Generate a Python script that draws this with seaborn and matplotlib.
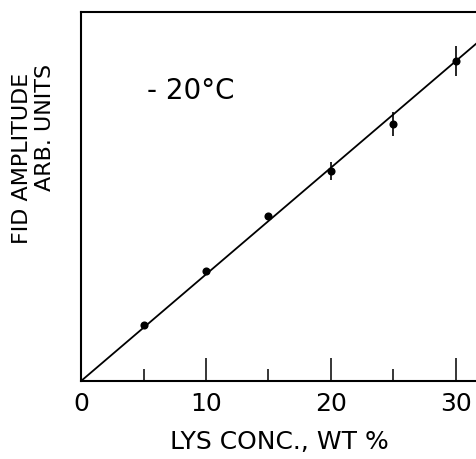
import numpy as np
import pandas as pd
import matplotlib
matplotlib.use('Agg')
import matplotlib.pyplot as plt
import seaborn as sns

# data
conc = [5, 10, 15, 20, 25, 30]
amp = [5.25, 10.3, 15.5, 19.7, 24.1, 30.0]
amp_err = [0.1, 0.15, 0.3, 0.85, 1.15, 1.4]
fit_x = [0, 32]
fit_y = [0, 32]
xticks_major = [0, 10, 20, 30]
xticks_minor = [5, 15, 25]

sns.set_theme(style='ticks')
plt.rcParams['font.family'] = ['DejaVu Sans']
plt.rcParams['text.color'] = 'black'
plt.rcParams['xtick.color'] = 'black'
plt.rcParams['xtick.labelcolor'] = 'black'
plt.rcParams['axes.labelcolor'] = 'black'

fig = plt.figure(figsize=(4.77, 4.60), dpi=100)
ax = fig.add_axes([0.170, 0.1696, 0.830, 0.802])

df = pd.DataFrame({'conc': conc, 'amp': amp, 'err': amp_err})
fit = pd.DataFrame({'x': fit_x, 'y': fit_y})

sns.lineplot(data=fit, x='x', y='y', color='black', linewidth=1.3, ax=ax)
ax.errorbar(df['conc'], df['amp'], yerr=df['err'], fmt='none', ecolor='black',
	elinewidth=1.2, capsize=0)
sns.scatterplot(data=df, x='conc', y='amp', color='black', s=34, edgecolor='black',
	linewidth=0, ax=ax, zorder=5)

ax.set_xlim(0, 31.7)
ax.set_ylim(0, 34.6)
ax.set_xticks(xticks_major)
ax.set_xticks(xticks_minor, minor=True)
ax.set_yticks([])
ax.tick_params(axis='x', which='major', direction='in', length=16.5, width=1.1,
	labelsize=18, pad=7)
ax.tick_params(axis='x', which='minor', direction='in', length=8.5, width=1.1)
for side in ['left', 'bottom', 'top']:
	ax.spines[side].set_linewidth(1.5)
	ax.spines[side].set_color('black')
ax.spines['right'].set_visible(False)

ax.set_xlabel('LYS CONC., WT %', fontsize=18, labelpad=10)
ax.set_ylabel('')
ax.text(5.3, 0.79, '- 20°C', transform=ax.get_xaxis_transform(), fontsize=20,
	va='center', ha='left')

fig.text(22/477, 1-158/460, 'FID AMPLITUDE', rotation=90, fontsize=16,
	ha='center', va='center')
fig.text(45/477, 1-127/460, 'ARB. UNITS', rotation=90, fontsize=16,
	ha='center', va='center')

fig.savefig('out.png', dpi=100)
